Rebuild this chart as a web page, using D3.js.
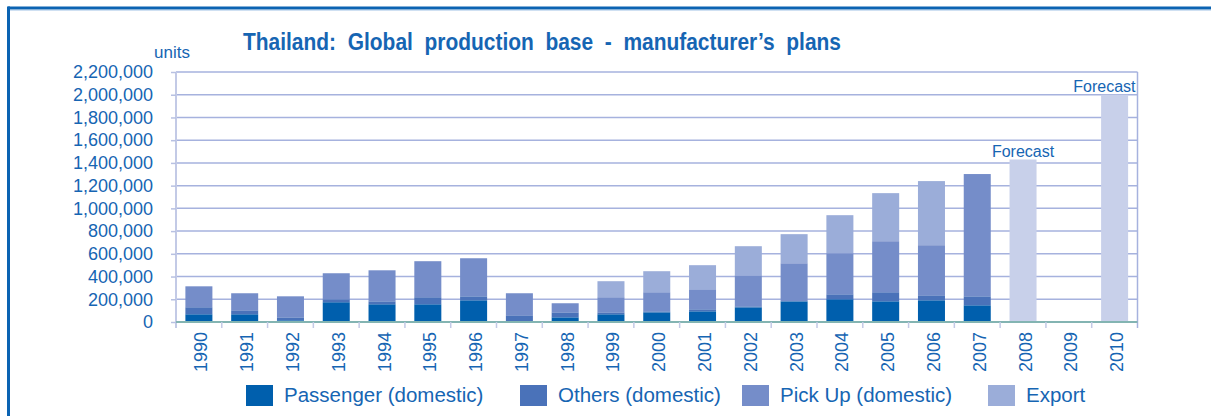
<!DOCTYPE html>
<html>
<head>
<meta charset="utf-8">
<script src="https://cdn.jsdelivr.net/npm/d3@7"></script>
<style>
  body { margin: 0; background: #fff; }
  svg text { font-family: "Liberation Sans", Arial, sans-serif; fill: #1665b3; }
</style>
</head>
<body>
<svg id="chart" width="1211" height="416"></svg>
<script>
// Data (units)
var years = ["1990","1991","1992","1993","1994","1995","1996","1997","1998","1999",
             "2000","2001","2002","2003","2004","2005","2006","2007","2008","2009","2010"];
var actualYears = years.slice(0, 18);
var passenger = [68000, 68000, 15000, 174000, 156000, 156000, 191000, 6000, 41000, 68000,
                 85000, 94000, 129000, 182000, 200000, 182000, 191000, 147000];
var others    = [62000, 35000, 26000, 26000, 26000, 62000, 35000, 53000, 44000, 17000,
                 9000, 18000, 9000, 0, 44000, 80000, 44000, 79000];
var pickUp    = [184000, 150000, 185000, 229000, 273000, 317000, 335000, 194000, 80000, 133000,
                 168000, 176000, 273000, 335000, 361000, 449000, 441000, 1076000];
var exportU   = [0, 0, 0, 0, 0, 0, 0, 0, 0, 141000,
                 185000, 212000, 256000, 256000, 335000, 423000, 564000, 0];
var forecastYears  = ["2008", "2010"];
var forecastValues = [1430000, 2000000];
var seriesNames = ["Passenger (domestic)", "Others (domestic)", "Pick Up (domestic)", "Export"];
var yTicks = d3.range(0, 2200001, 200000);

var colors = ["#005fad", "#4a72b9", "#758dc9", "#9badd9"];
var forecastColor = "#c8d0ea";

var svg = d3.select("#chart");

// frame of the page
svg.append("line").attr("x1", 8).attr("x2", 1211).attr("y1", 8).attr("y2", 8)
  .attr("stroke", "#0b63b2").attr("stroke-width", 3);
svg.append("line").attr("x1", 10).attr("x2", 1211).attr("y1", 10.5).attr("y2", 10.5)
  .attr("stroke", "#cfe0f2").attr("stroke-width", 1);
svg.append("line").attr("x1", 8.5).attr("x2", 8.5).attr("y1", 6.5).attr("y2", 416)
  .attr("stroke", "#0b63b2").attr("stroke-width", 3);

var plotLeft = 176, plotRight = 1137.5, plotTop = 72, plotBottom = 322;

var x = d3.scaleBand().domain(years).range([plotLeft, plotRight]).paddingInner(0.41).paddingOuter(0.205);
var y = d3.scaleLinear().domain([0, 2200000]).range([plotBottom, plotTop]);

// gridlines
svg.append("g").selectAll("line").data(yTicks.slice(1)).enter().append("line")
  .attr("x1", plotLeft).attr("x2", plotRight)
  .attr("y1", d => y(d)).attr("y2", d => y(d))
  .attr("stroke", "#a6b2de").attr("stroke-width", 1.5);

// right frame edge
svg.append("line").attr("x1", plotRight).attr("x2", plotRight).attr("y1", plotTop).attr("y2", plotBottom + 6)
  .attr("stroke", "#a6b2de").attr("stroke-width", 1.5);

// y axis
var yAxis = svg.append("g")
  .attr("transform", "translate(" + plotLeft + ",0)")
  .call(d3.axisLeft(y).tickValues(yTicks).tickSize(5).tickPadding(18).tickFormat(d3.format(",")));
yAxis.select(".domain").attr("stroke", "#c3cae6").attr("stroke-width", 2)
  .attr("d", "M0," + plotTop + "V" + (plotBottom + 6));
yAxis.selectAll(".tick line").attr("stroke", "#b8c1e2").attr("stroke-width", 1.5);
yAxis.selectAll(".tick text").style("font-size", "18px").attr("fill", "#1665b3");

svg.append("text").attr("x", 172).attr("y", 58).attr("text-anchor", "middle")
  .style("font-size", "17px").text("units");

// stacked bars
var table = actualYears.map(function(yr, i) {
  return { year: yr, s0: passenger[i], s1: others[i], s2: pickUp[i], s3: exportU[i] };
});
var stack = d3.stack().keys(["s0", "s1", "s2", "s3"])(table);

svg.append("g").selectAll("g").data(stack).enter().append("g")
  .attr("fill", (d, i) => colors[i])
  .selectAll("rect").data(d => d).enter().append("rect")
  .attr("x", d => x(d.data.year))
  .attr("y", d => y(d[1]))
  .attr("width", x.bandwidth())
  .attr("height", d => y(d[0]) - y(d[1]));

// forecast bars
svg.append("g").selectAll("rect").data(forecastYears).enter().append("rect")
  .attr("x", d => x(d))
  .attr("y", (d, i) => y(forecastValues[i]))
  .attr("width", x.bandwidth())
  .attr("height", (d, i) => plotBottom - y(forecastValues[i]))
  .attr("fill", forecastColor);

svg.append("text").attr("x", x("2008") + x.bandwidth() / 2).attr("y", y(forecastValues[0]) - 3)
  .attr("text-anchor", "middle").style("font-size", "16px").text("Forecast");
svg.append("text").attr("x", plotRight - 2).attr("y", y(forecastValues[1]) - 3)
  .attr("text-anchor", "end").style("font-size", "16px").text("Forecast");

// x axis
svg.append("line").attr("x1", plotLeft).attr("x2", plotRight).attr("y1", plotBottom).attr("y2", plotBottom)
  .attr("stroke", "#83b4b2").attr("stroke-width", 2);
svg.append("g").selectAll("line").data(years.slice(1)).enter().append("line")
  .attr("x1", d => x(d) - x.step() * x.paddingInner() / 2)
  .attr("x2", d => x(d) - x.step() * x.paddingInner() / 2)
  .attr("y1", plotBottom).attr("y2", plotBottom + 6)
  .attr("stroke", "#c3cae6").attr("stroke-width", 1.5);

svg.append("g").selectAll("text").data(years).enter().append("text")
  .attr("transform", d => "translate(" + (x(d) + x.bandwidth() / 2 + 2) + "," + (plotBottom + 10) + ") rotate(-90)")
  .attr("text-anchor", "end").attr("dy", "0.36em")
  .style("font-size", "18px").text(d => d);

// title
svg.append("text").attr("x", 243).attr("y", 50)
  .attr("textLength", 598).attr("lengthAdjust", "spacingAndGlyphs")
  .style("white-space", "pre")
  .style("font-family", "'Liberation Sans Narrow', 'Liberation Sans', Arial, sans-serif")
  .style("font-weight", "bold").style("font-size", "24px").attr("fill", "#0b5fae")
  .text("Thailand:  Global  production  base  -  manufacturer\u2019s  plans");

// legend
var legendX = [246, 520, 742, 988];
var legend = svg.append("g").selectAll("g").data(seriesNames).enter().append("g")
  .attr("transform", (d, i) => "translate(" + legendX[i] + ",385)");
legend.append("rect").attr("width", 27).attr("height", 21).attr("fill", (d, i) => colors[i]);
legend.append("text").attr("x", 38).attr("y", 17).style("font-size", "20.5px").text(d => d);
</script>
</body>
</html>
